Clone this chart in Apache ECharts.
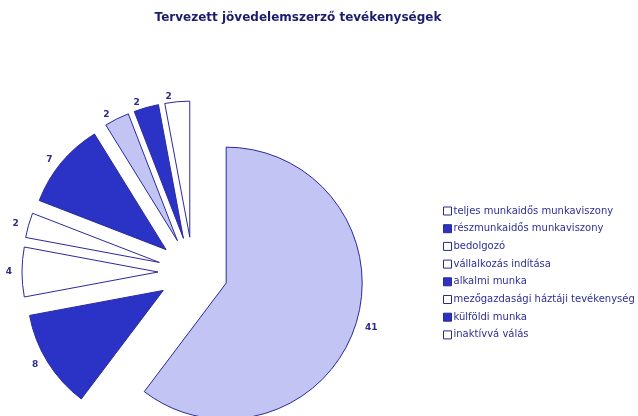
<!DOCTYPE html>
<html><head><meta charset="utf-8">
<script src="https://cdn.jsdelivr.net/npm/echarts@6/dist/echarts.min.js"></script>
<style>html,body{margin:0;padding:0;background:#fff}#c{width:638px;height:416px}</style>
</head><body><div id="c"></div>
<script>
const categories = ['teljes munkaidős munkaviszony','részmunkaidős munkaviszony','bedolgozó','vállalkozás indítása','alkalmi munka','mezőgazdasági háztáji tevékenység','külföldi munka','inaktívvá válás'];
const values = [41, 8, 4, 2, 7, 2, 2, 2];
const fills = ['#c2c5f3','#2b33c6','#ffffff','#ffffff','#2b33c6','#c2c5f3','#2b33c6','#ffffff'];
const legendFills = ['#ffffff','#2b33c6','#ffffff','#ffffff','#2b33c6','#ffffff','#2b33c6','#ffffff'];
const title = 'Tervezett jövedelemszerző tevékenységek';

const chart = echarts.init(document.getElementById('c'), null, {renderer:'canvas'});
chart.setOption({
  animation: false,
  backgroundColor: '#ffffff',
  title: {
    text: title, left: 293, top: 7, textAlign: 'center',
    textStyle: {fontFamily: 'DejaVu Sans', fontSize: 12, fontWeight: 'bold', color: '#1c1c6e'}
  },
  legend: {
    orient: 'vertical', left: 438, top: 201,
    itemWidth: 8, itemHeight: 8, itemGap: 7.7,
    icon: 'rect',
    textStyle: {fontFamily: 'DejaVu Sans', fontSize: 10, color: '#2e2e96', padding: [0,0,0,-3]},
    selectedMode: false,
    data: categories.map((c,i)=>({name:c, itemStyle:{color: legendFills[i], borderColor:'#2a2a8c', borderWidth:1}}))
  },
  series: [{
    type: 'pie',
    center: [193, 272],
    radius: 136,
    startAngle: 90,
    clockwise: true,
    selectedMode: 'multiple',
    selectedOffset: 35,
    avoidLabelOverlap: false,
    label: {show: true, position: 'outside', formatter: '{c}', fontFamily: 'DejaVu Sans', fontSize: 9, fontWeight: 'bold', color: '#2a2a8c'},
    labelLine: {show: false, length: 5, length2: 0},
    emphasis: {disabled: true},
    itemStyle: {borderColor: '#2a2a9a', borderWidth: 1},
    data: categories.map((c,i)=>({name:c, value: values[i], selected: true, itemStyle:{color: fills[i]}}))
  }]
});
</script></body></html>
